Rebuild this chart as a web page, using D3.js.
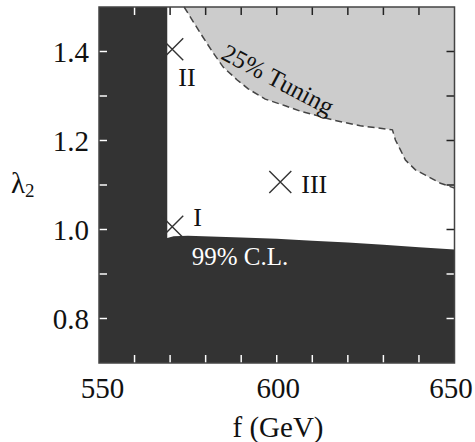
<!DOCTYPE html>
<html>
<head>
<meta charset="utf-8">
<script src="https://cdn.jsdelivr.net/npm/d3@7"></script>
<style>
  html, body { margin: 0; padding: 0; background: #fff; }
  svg text { font-family: "Liberation Serif", "DejaVu Serif", serif; }
</style>
</head>
<body>
<svg id="chart" width="475" height="442"></svg>
<script>
// Axis ranges and ticks
const xDomain = [550, 650];
const yDomain = [0.7, 1.5];
const xTickValues = [560, 570, 580, 590, 600, 610, 620, 630, 640];
const xTickLabels = [550, 600, 650];
const yTickValues = [0.8, 0.9, 1.0, 1.1, 1.2, 1.3, 1.4];
const yTickLabels = ["0.8", "1.0", "1.2", "1.4"];

// Excluded region (99% C.L.): vertical edge in f, then the lower boundary in lambda_2
const clEdgeF = 569.2;
const clBoundaryF = [569.2, 571, 575, 590, 600, 610, 620, 630, 640, 650];
const clBoundaryL = [0.981, 0.985, 0.986, 0.982, 0.979, 0.975, 0.971, 0.966, 0.960, 0.955];

// 25% tuning contour
const tuneF = [573.94, 578.45, 582.11, 584.93, 588.87, 591.97, 596.76, 602.39, 606.62, 615.92,
               623.52, 632.54, 633.38, 634.79, 636.20, 639.01, 641.83, 646.06, 650.0];
const tuneL = [1.500, 1.442, 1.397, 1.365, 1.336, 1.316, 1.293, 1.278, 1.266, 1.246,
               1.233, 1.224, 1.201, 1.179, 1.156, 1.134, 1.122, 1.104, 1.093];

// Benchmark points
const pointNames = ["I", "II", "III"];
const pointF = [570.6, 570.6, 601.0];
const pointL = [1.006, 1.405, 1.107];

const svg = d3.select("#chart");
const plotLeft = 99, plotRight = 454.5, plotTop = 7, plotBottom = 363;

const x = d3.scaleLinear().domain(xDomain).range([plotLeft, plotRight]);
const y = d3.scaleLinear().domain(yDomain).range([plotBottom, plotTop]);

// Gray tuning region: contour then up to the top edge
const tunePts = tuneF.map((f, i) => [f, tuneL[i]]);
const tuneLine = d3.line().x(d => x(d[0])).y(d => y(d[1])).curve(d3.curveLinear);
const tuneArea = d3.area()
  .x(d => x(d[0])).y0(y(yDomain[1])).y1(d => y(d[1]))
  .curve(d3.curveLinear);

svg.append("path")
  .attr("d", tuneArea(tunePts))
  .attr("fill", "#cccccc");

// Dark excluded region polygon
const clPts = [[xDomain[0], yDomain[0]], [xDomain[0], yDomain[1]], [clEdgeF, yDomain[1]]]
  .concat(clBoundaryF.map((f, i) => [f, clBoundaryL[i]]))
  .concat([[xDomain[1], yDomain[0]]]);
const clPath = d3.line().x(d => x(d[0])).y(d => y(d[1]))(clPts) + "Z";

svg.append("path").attr("d", clPath).attr("fill", "#333333");

svg.append("defs").append("clipPath").attr("id", "darkClip")
  .append("path").attr("d", clPath);

// Tuning contour, dashed
svg.append("path")
  .attr("d", tuneLine(tunePts))
  .attr("fill", "none")
  .attr("stroke", "#444")
  .attr("stroke-width", 1.5)
  .attr("stroke-dasharray", "7,4");

// Inward ticks on all four sides: black, then white where they fall on the dark region
const tickLen = 8;
function drawTicks(g, color) {
  xTickValues.forEach(v => {
    g.append("line").attr("x1", x(v)).attr("x2", x(v)).attr("y1", plotBottom).attr("y2", plotBottom - tickLen);
    g.append("line").attr("x1", x(v)).attr("x2", x(v)).attr("y1", plotTop).attr("y2", plotTop + tickLen);
  });
  yTickValues.forEach(v => {
    g.append("line").attr("x1", plotLeft).attr("x2", plotLeft + tickLen).attr("y1", y(v)).attr("y2", y(v));
    g.append("line").attr("x1", plotRight).attr("x2", plotRight - tickLen).attr("y1", y(v)).attr("y2", y(v));
  });
  g.attr("stroke", color).attr("stroke-width", 1.5);
}
drawTicks(svg.append("g"), "#222");
drawTicks(svg.append("g").attr("clip-path", "url(#darkClip)"), "#fff");

// Frame
svg.append("rect")
  .attr("x", plotLeft).attr("y", plotTop)
  .attr("width", plotRight - plotLeft).attr("height", plotBottom - plotTop)
  .attr("fill", "none").attr("stroke", "#444").attr("stroke-width", 1.5);

// Tick labels via D3 axes (domain and tick lines hidden)
const xLabelShift = { 550: 3, 600: 1, 650: -4 };
const xAxis = d3.axisBottom(x).tickValues(xTickLabels).tickSize(0).tickPadding(0).tickFormat(d3.format("d"));
const gx = svg.append("g").attr("transform", `translate(0,${plotBottom})`).call(xAxis);
gx.attr("font-family", null);
gx.select(".domain").remove();
gx.selectAll("text").attr("font-size", 29).attr("fill", "#111")
  .attr("dx", d => xLabelShift[d]).attr("dy", "1.05em").attr("y", 5);

const yAxis = d3.axisLeft(y).tickValues(yTickLabels.map(Number)).tickSize(0).tickPadding(10)
  .tickFormat((d, i) => yTickLabels[i]);
const gy = svg.append("g").attr("transform", `translate(${plotLeft},0)`).call(yAxis);
gy.attr("font-family", null);
gy.select(".domain").remove();
gy.selectAll("text").attr("font-size", 29).attr("fill", "#111").attr("dy", "0.34em");

// Axis titles
svg.append("text").attr("x", 278).attr("y", 437).attr("text-anchor", "middle")
  .attr("font-size", 29).attr("fill", "#111").text("f (GeV)");

const yTitle = svg.append("text").attr("x", 11).attr("y", 193).attr("font-size", 29).attr("fill", "#111");
yTitle.append("tspan").text("λ");
yTitle.append("tspan").attr("font-size", 19).attr("dy", 4).text("2");

// Region labels
svg.append("text").attr("x", 240).attr("y", 265).attr("text-anchor", "middle")
  .attr("font-size", 25).attr("fill", "#fff").text("99% C.L.");

svg.append("text")
  .attr("transform", "translate(274,87) rotate(28)")
  .attr("text-anchor", "middle")
  .attr("font-size", 25).attr("fill", "#111").text("25% Tuning");

// Benchmark crosses and labels
const cross = 11;
const labelOffsets = [[21, -1], [6, 37], [21, 11]];
pointNames.forEach((name, i) => {
  const cx = x(pointF[i]), cy = y(pointL[i]);
  svg.append("path")
    .attr("d", `M${cx - cross},${cy - cross}L${cx + cross},${cy + cross}M${cx - cross},${cy + cross}L${cx + cross},${cy - cross}`)
    .attr("stroke", "#333").attr("stroke-width", 1.4).attr("fill", "none");
  svg.append("text")
    .attr("x", cx + labelOffsets[i][0]).attr("y", cy + labelOffsets[i][1])
    .attr("font-size", 26).attr("fill", "#111").text(name);
});
</script>
</body>
</html>
